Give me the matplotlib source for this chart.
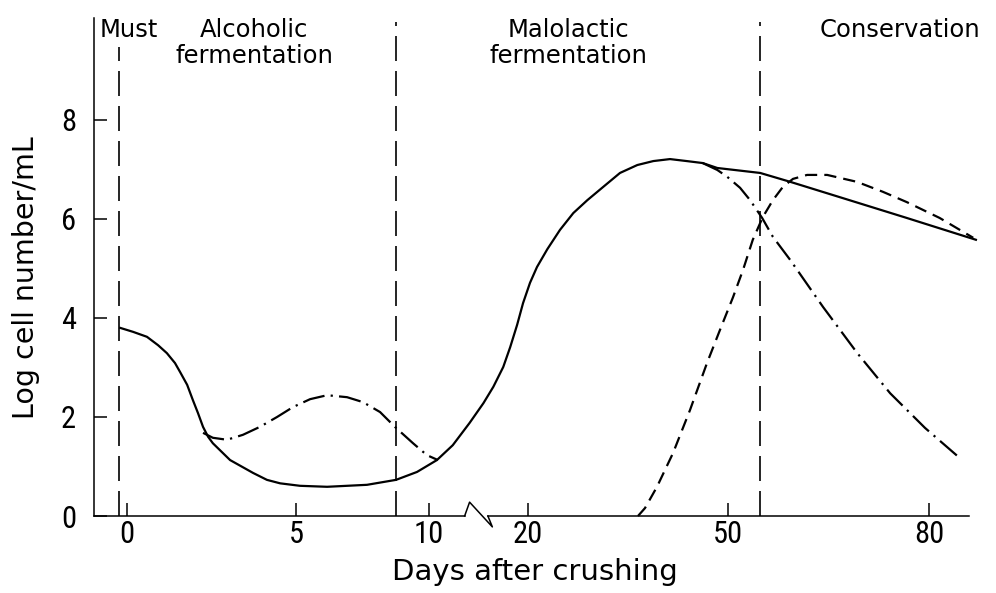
import numpy as np
import matplotlib
matplotlib.use("Agg")
import matplotlib.pyplot as plt
from matplotlib import font_manager
from matplotlib.font_manager import FontProperties

# ---- data (days after crushing, log cells/mL) ----
tick_days = [0, 5, 10, 20, 50, 80]
tick_labels = ["0", "5", "10", "20", "50", "80"]
y_ticks = [0, 2, 4, 6, 8]

# solid line: total population
solid_days = [-0.2, 0.18, 0.59, 0.92, 1.18, 1.42, 1.57, 1.78, 1.95, 2.10, 2.25,
              2.40, 2.54, 3.05, 3.73, 4.14, 4.53, 5.15, 6.17, 7.67, 8.76, 9.55,
              10.8, 12.4, 14.1, 15.5, 16.5, 17.5, 18.2, 18.9, 19.5, 20.3, 21.35,
              22.9, 24.8, 26.8, 28.9, 31.3, 33.8, 36.4, 38.8, 41.3, 43.8, 46.2,
              48.4, 54.8, 59.3, 66.7, 76.7, 87.0]
solid_vals = [3.80, 3.72, 3.62, 3.45, 3.29, 3.09, 2.91, 2.65, 2.34, 2.08, 1.80,
              1.60, 1.47, 1.13, 0.87, 0.73, 0.66, 0.61, 0.59, 0.63, 0.73, 0.89,
              1.13, 1.43, 1.88, 2.28, 2.61, 3.01, 3.41, 3.86, 4.30, 4.71, 5.03,
              5.39, 5.78, 6.12, 6.38, 6.65, 6.93, 7.09, 7.17, 7.21, 7.17, 7.13,
              7.03, 6.93, 6.75, 6.44, 6.02, 5.58]

# dash-dot: first population during alcoholic fermentation
dd1_days = [2.25, 2.54, 2.96, 3.43, 3.93, 4.44, 4.91, 5.53, 6.17, 6.92, 7.52,
            8.16, 8.72, 9.40, 9.92, 10.9]
dd1_vals = [1.68, 1.58, 1.54, 1.64, 1.80, 2.00, 2.20, 2.36, 2.44, 2.40, 2.30,
            2.10, 1.80, 1.47, 1.23, 1.13]

# dash-dot: decline after malolactic fermentation
dd2_days = [46.2, 48.4, 49.9, 51.8, 53.3, 55.1, 56.7, 59.3, 64.2, 69.3, 74.2,
            79.4, 84.6]
dd2_vals = [7.13, 6.99, 6.85, 6.63, 6.38, 6.02, 5.64, 5.17, 4.22, 3.29, 2.48,
            1.78, 1.17]

# dashed: population appearing during conservation
dash_days = [36.5, 37.55, 39.35, 41.75, 44.3, 46.85, 48.8, 50.75, 52.24, 53.7,
             55.2, 56.7, 58.2, 59.7, 61.8, 64.8, 69.25, 73.1, 76.7, 81.6, 84.6,
             86.6]
dash_vals = [0.00, 0.16, 0.59, 1.27, 2.14, 3.09, 3.76, 4.42, 4.97, 5.58, 6.04,
             6.38, 6.65, 6.81, 6.89, 6.89, 6.75, 6.55, 6.34, 6.02, 5.78, 5.62]

phase_bounds = [-0.24, 8.76, 54.8]

# ---- broken, non-uniform day axis (piecewise linear scale) ----
D_ANCH = np.array(tick_days, float)
P_ANCH = np.array([127, 296, 429, 528, 728, 929], float)
s_lo = (P_ANCH[1] - P_ANCH[0]) / (D_ANCH[1] - D_ANCH[0])
s_hi = (P_ANCH[-1] - P_ANCH[-2]) / (D_ANCH[-1] - D_ANCH[-2])


def fwd(d):
    d = np.asarray(d, float)
    p = np.interp(d, D_ANCH, P_ANCH)
    p = np.where(d < D_ANCH[0], P_ANCH[0] + (d - D_ANCH[0]) * s_lo, p)
    p = np.where(d > D_ANCH[-1], P_ANCH[-1] + (d - D_ANCH[-1]) * s_hi, p)
    return p


def inv(p):
    p = np.asarray(p, float)
    d = np.interp(p, P_ANCH, D_ANCH)
    d = np.where(p < P_ANCH[0], D_ANCH[0] + (p - P_ANCH[0]) / s_lo, d)
    d = np.where(p > P_ANCH[-1], D_ANCH[-1] + (p - P_ANCH[-1]) / s_hi, d)
    return d


# pick a narrow face for the tick numbers if one is around
fonts = font_manager.fontManager.ttflist
names = {f.name for f in fonts}
tick_fp = None
for cand in ["Liberation Sans Narrow", "Roboto Condensed", "Open Sans Condensed"]:
    if cand in names:
        tick_fp = FontProperties(family=cand, size=22)
        break
if tick_fp is None:
    if any(f.name == "DejaVu Sans" and f.stretch == "condensed" for f in fonts):
        tick_fp = FontProperties(family="DejaVu Sans", stretch="condensed", size=22)
    else:
        tick_fp = FontProperties(family="Roboto", size=22)

plt.rcParams["font.family"] = ["DejaVu Sans"]

fig = plt.figure(figsize=(9.96, 5.93), dpi=100)
ax = fig.add_axes([94 / 996, 77 / 593, 875 / 996, 498 / 593])
ax.set_xscale("function", functions=(fwd, inv))
ax.set_xlim(-0.976, 85.97)
ax.set_ylim(0, 10.06)

lw = 1.6
ax.plot(solid_days, solid_vals, color="black", lw=lw, clip_on=False)
ax.plot(dd1_days, dd1_vals, color="black", lw=lw, dashes=(10, 2.8, 1, 2.8), clip_on=False)
ax.plot(dd2_days, dd2_vals, color="black", lw=lw, dashes=(10, 2.8, 1, 2.8), clip_on=False)
ax.plot(dash_days, dash_vals, color="black", lw=lw, dashes=(5.5, 3.2), clip_on=False)

# phase boundaries
ax.vlines(phase_bounds[0], 0, 9.47, color="black", lw=1.2, linestyles=(0, (15, 6)))
ax.vlines(phase_bounds[1:], 0, 9.98, color="black", lw=1.2, linestyles=(0, (15, 6)))

# phase names
ax.text(-0.8, 9.68, "Must", fontsize=17.5, va="baseline", ha="left")
ax.text(3.76, 9.68, "Alcoholic", fontsize=17.5, va="baseline", ha="center")
ax.text(3.76, 9.15, "fermentation", fontsize=17.5, va="baseline", ha="center")
ax.text(26.0, 9.68, "Malolactic", fontsize=17.5, va="baseline", ha="center")
ax.text(26.0, 9.15, "fermentation", fontsize=17.5, va="baseline", ha="center")
ax.text(75.7, 9.68, "Conservation", fontsize=17.5, va="baseline", ha="center")

# bottom axis drawn by hand with the break symbol
for s in ["top", "right", "bottom"]:
    ax.spines[s].set_visible(False)
ax.spines["left"].set_linewidth(1.1)
ax.plot([-0.976, 13.6], [0, 0], color="black", lw=1.1, clip_on=False)
ax.plot([13.6, 14.1, 16.4, 15.95], [0, 0.28, -0.22, 0], color="black", lw=1.1, clip_on=False)
ax.plot([15.95, 85.97], [0, 0], color="black", lw=1.1, clip_on=False)

ax.set_xticks(tick_days)
ax.set_xticklabels(tick_labels, fontproperties=tick_fp)
ax.set_yticks(y_ticks)
ax.set_yticklabels([str(v) for v in y_ticks], fontproperties=tick_fp)
ax.xaxis.set_minor_locator(matplotlib.ticker.NullLocator())
ax.tick_params(axis="x", direction="in", length=9.5, width=1.1, pad=3)
ax.tick_params(axis="y", direction="in", length=9.5, width=1.1, pad=13)

ax.set_xlabel("Days after crushing", fontsize=21)
ax.xaxis.set_label_coords(0.504, -0.085)
ax.xaxis.label.set_va("top")
ax.set_ylabel("Log cell number/mL", fontsize=20.5)
ax.yaxis.set_label_coords(-0.062, 0.478)

fig.savefig("out.png", dpi=100)
